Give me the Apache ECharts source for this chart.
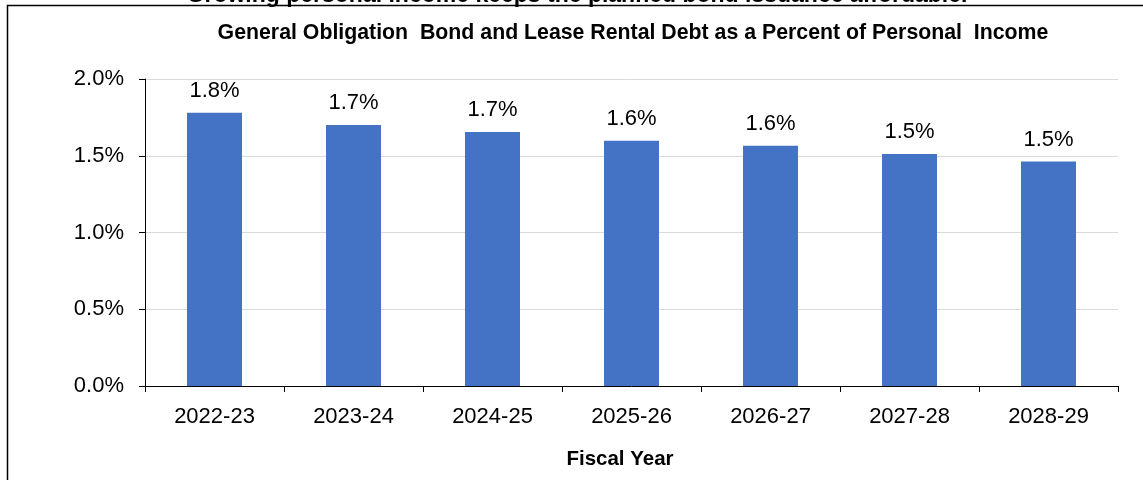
<!DOCTYPE html>
<html>
<head>
<meta charset="utf-8">
<script src="https://cdn.jsdelivr.net/npm/echarts@6/dist/echarts.min.js"></script>
<style>
html,body{margin:0;padding:0;background:#fff;}
#chart{width:1143px;height:480px;}
</style>
</head>
<body>
<div id="chart"></div>
<script>
// 数据
var categories = ['2022-23', '2023-24', '2024-25', '2025-26', '2026-27', '2027-28', '2028-29'];
var debtPct = [1.78, 1.70, 1.655, 1.597, 1.565, 1.512, 1.462];
var yTicks = [0, 0.5, 1.0, 1.5, 2.0];

var chart = echarts.init(document.getElementById('chart'));
var font = 'Arial, "Liberation Sans", sans-serif';

var option = {
	animation: false,
	title: [{
		text: 'General Obligation  Bond and Lease Rental Debt as a Percent of Personal  Income',
		left: 628,
		top: 18,
		textAlign: 'center',
		textStyle: { fontFamily: font, fontSize: 21.3, fontWeight: 'bold', color: '#000' }
	}, {
		text: 'Fiscal Year',
		left: 615,
		top: 444,
		textAlign: 'center',
		textStyle: { fontFamily: font, fontSize: 20.5, fontWeight: 'bold', color: '#000' }
	}, {
		// 上方被截掉的标题
		text: 'Growing personal income keeps the planned bond issuance affordable.',
		left: 572,
		top: -21,
		textAlign: 'center',
		textStyle: { fontFamily: font, fontSize: 23, fontWeight: 'bold', color: '#000' }
	}],
	graphic: [{
		type: 'polyline',
		shape: { points: [[7.5, 490], [7.5, 5.5], [1150, 5.5]] },
		style: { stroke: '#000', lineWidth: 1.5, fill: null },
		z: 100
	}],
	grid: { left: 145, right: 25, top: 79, bottom: 94 },
	xAxis: {
		type: 'category',
		data: categories,
		axisLine: { lineStyle: { color: '#000', width: 1 } },
		axisTick: { show: true, length: 6, lineStyle: { color: '#000' } },
		axisLabel: { fontFamily: font, fontSize: 22, color: '#000', margin: 20 }
	},
	yAxis: {
		type: 'value',
		min: 0,
		max: 2.0,
		interval: 0.5,
		axisLine: { show: true, lineStyle: { color: '#000', width: 1 } },
		axisTick: { show: true, length: 6, lineStyle: { color: '#000' } },
		splitLine: { lineStyle: { color: '#d9d9d9', width: 1 } },
		axisLabel: {
			fontFamily: font, fontSize: 22, color: '#000', margin: 21,
			formatter: function(v) { return v.toFixed(1) + '%'; }
		}
	},
	series: [{
		type: 'bar',
		data: debtPct,
		barWidth: 55,
		itemStyle: { color: '#4472C4' },
		label: {
			show: true,
			position: 'top',
			distance: 11,
			fontFamily: font,
			fontSize: 22,
			color: '#000',
			formatter: function(p) { return p.value.toFixed(1) + '%'; }
		}
	}]
};
chart.setOption(option);
</script>
</body>
</html>
